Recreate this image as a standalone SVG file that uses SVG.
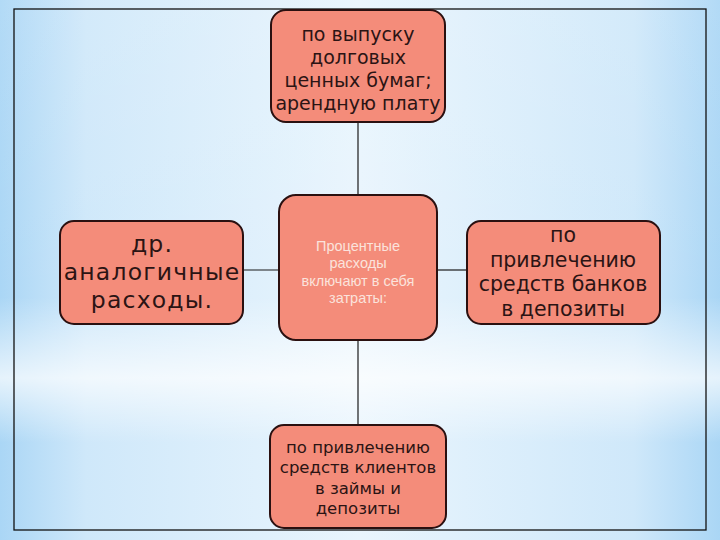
<svg xmlns="http://www.w3.org/2000/svg" width="720" height="540" viewBox="0 0 720 540">
<defs>
<linearGradient id="bgH" x1="0" y1="0" x2="1" y2="0">
<stop offset="0" stop-color="#aad6f5"/>
<stop offset="0.12" stop-color="#cfe8fa"/>
<stop offset="0.5" stop-color="#e9f5fd"/>
<stop offset="0.88" stop-color="#cfe8fa"/>
<stop offset="1" stop-color="#aad6f5"/>
</linearGradient>
<linearGradient id="bgV" x1="0" y1="0" x2="0" y2="1">
<stop offset="0" stop-color="#ffffff" stop-opacity="0.1"/>
<stop offset="0.55" stop-color="#ffffff" stop-opacity="0"/>
<stop offset="0.7" stop-color="#ffffff" stop-opacity="0.7"/>
<stop offset="0.82" stop-color="#ffffff" stop-opacity="0"/>
<stop offset="1" stop-color="#ffffff" stop-opacity="0"/>
</linearGradient>
<style>
.node{fill:#f48c7a;stroke:#2a1010;stroke-width:2}
.t{font-family:"DejaVu Sans",sans-serif;fill:#2b1414;text-anchor:middle}
.c{font-family:"Liberation Sans",Arial,sans-serif;fill:#fbe3dc;text-anchor:middle;font-size:14.5px}
.conn{stroke:#1a1a1a;stroke-width:1.2;fill:none}
</style>
</defs>
<rect x="0" y="0" width="720" height="540" fill="url(#bgH)"/>
<rect x="0" y="0" width="720" height="540" fill="url(#bgV)"/>
<rect x="14" y="9" width="692" height="521" fill="none" stroke="#111" stroke-width="1.3"/>
<g id="connectors">
<line class="conn" x1="358" y1="122" x2="358" y2="195"/>
<line class="conn" x1="358" y1="340" x2="358" y2="425"/>
<line class="conn" x1="243" y1="270" x2="279" y2="270"/>
<line class="conn" x1="437" y1="270" x2="467" y2="270"/>
</g>
<g id="node-top">
<rect class="node" x="271" y="10" width="174" height="112" rx="15"/>
<text class="t" font-size="19"><tspan x="358" y="41">по выпуску</tspan><tspan x="358" y="64">долговых</tspan><tspan x="358" y="87">ценных бумаг;</tspan><tspan x="358" y="110">арендную плату</tspan></text>
</g>
<g id="node-center">
<rect class="node" x="279" y="195" width="158" height="145" rx="17"/>
<text class="c"><tspan x="358" y="251">Процентные</tspan><tspan x="358" y="268">расходы</tspan><tspan x="358" y="285.5">включают в себя</tspan><tspan x="358" y="302.5">затраты:</tspan></text>
</g>
<g id="node-left">
<rect class="node" x="60" y="221" width="183" height="103" rx="14"/>
<text class="t" font-size="23.5" letter-spacing="1.2"><tspan x="152" y="252">др.</tspan><tspan x="152" y="280">аналогичные</tspan><tspan x="152" y="308">расходы.</tspan></text>
</g>
<g id="node-right">
<rect class="node" x="467" y="221" width="193" height="103" rx="14"/>
<text class="t" font-size="20.5"><tspan x="563" y="242">по</tspan><tspan x="563" y="266.5">привлечению</tspan><tspan x="563" y="291">средств банков</tspan><tspan x="563" y="315.5">в депозиты</tspan></text>
</g>
<g id="node-bottom">
<rect class="node" x="270" y="425" width="176" height="103" rx="14"/>
<text class="t" font-size="16.5"><tspan x="358" y="453">по привлечению</tspan><tspan x="358" y="473">средств клиентов</tspan><tspan x="358" y="493.5">в займы и</tspan><tspan x="358" y="514">депозиты</tspan></text>
</g>
</svg>
